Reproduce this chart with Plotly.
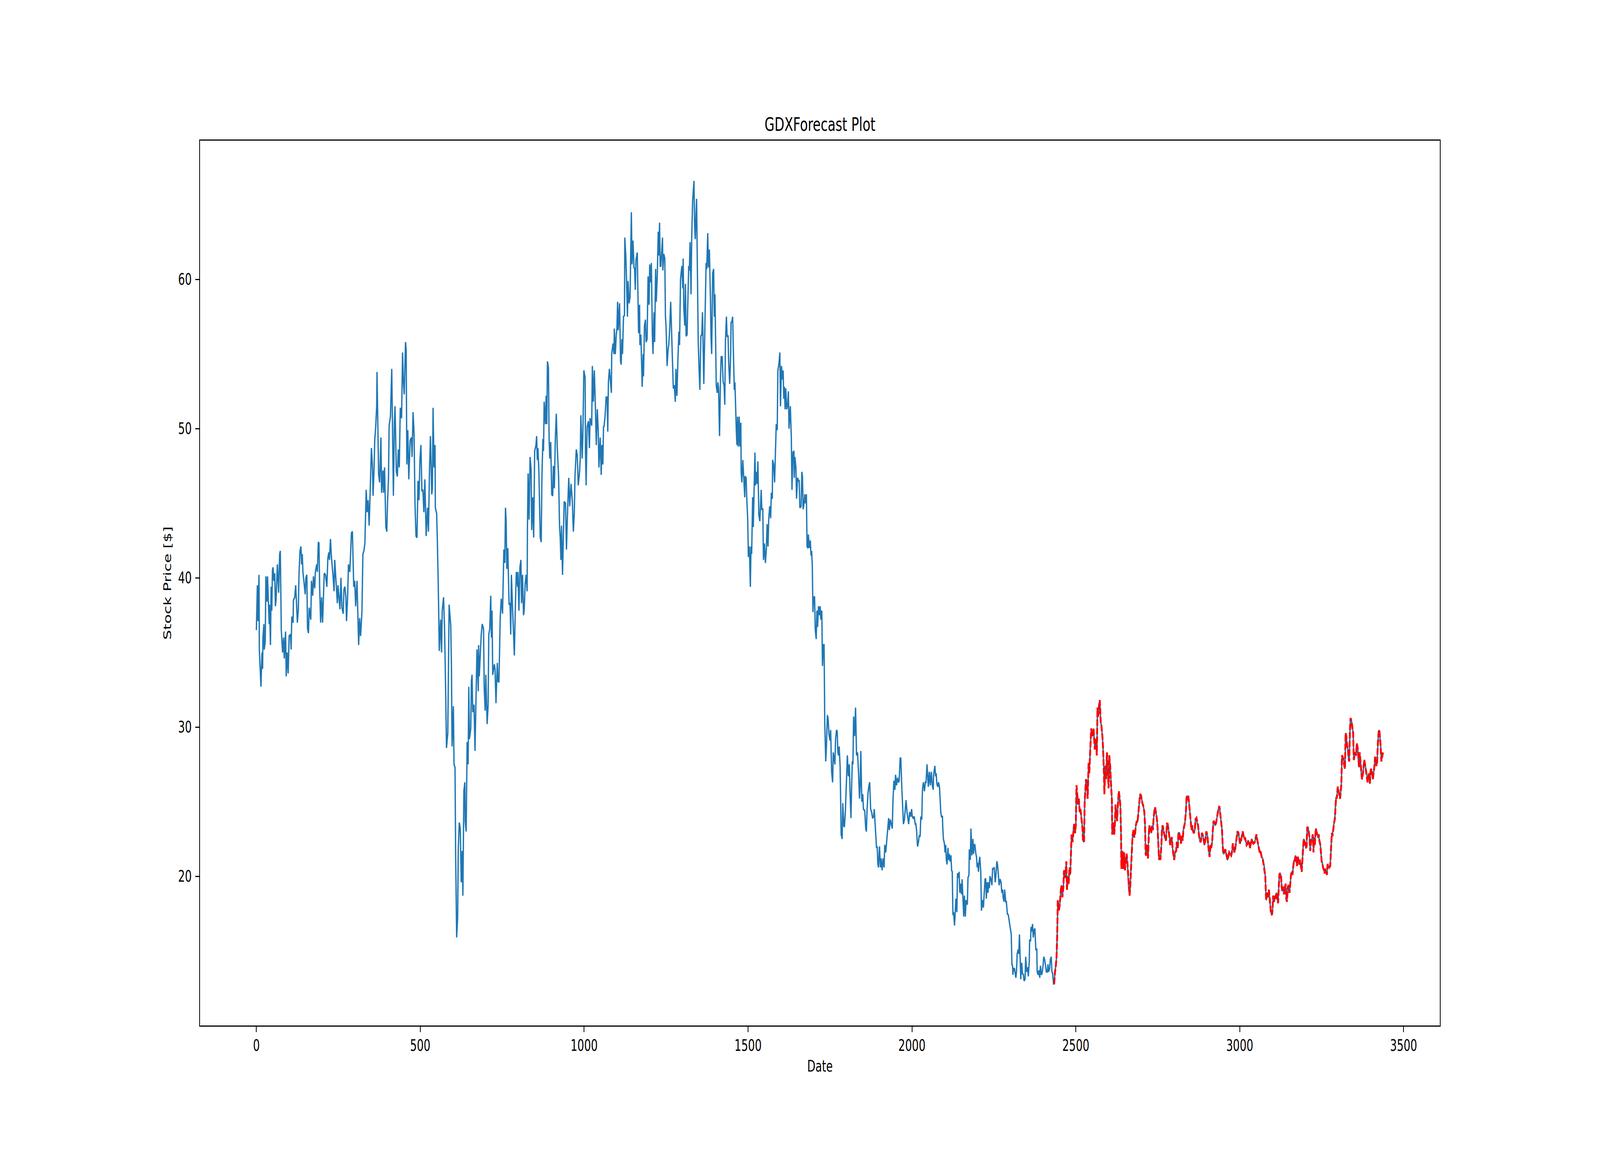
import plotly.graph_objects as go

# GDX close price (blue) and forecast over the test period (red dashed)
# values, x = trading-day index

days_2008 = [0, 1, 3, 5, 8, 9, 14, 17, 19, 20, 23, 24, 27, 29, 32, 34, 39, 40, 43, 45,
             47, 49, 51, 53, 56, 58, 60, 64, 68, 71, 73, 76, 80, 83, 85, 89, 91, 94, 97, 100,
             104, 106, 108, 112, 113, 117, 120, 123, 125, 128, 130, 133, 136, 138, 140, 142, 146, 149, 151, 154,
             156, 159, 161, 166, 168, 172, 174, 178, 180, 184, 186, 189, 191, 193, 196, 199, 202, 207, 211, 215,
             218, 221, 223, 226, 229, 231, 234, 237, 239, 242, 247, 249, 253, 255, 258, 261, 265, 267, 270, 273,
             275, 278, 281, 285, 287, 290, 293, 297, 300, 303, 307, 312, 315, 318, 322, 325, 328, 331, 335, 338,
             341, 344, 346, 349, 351, 354, 356, 359, 361, 364, 367, 368, 370, 372, 373, 376, 380, 382, 386, 388,
             391, 395, 398, 400, 403, 405, 409, 413, 415, 418, 421, 423, 427, 430, 433, 436, 439, 443, 446, 448,
             451, 453, 455, 457, 459, 462, 465, 469, 473, 475, 478]
price_2008 = [36.5, 37.7, 39.5, 37.1, 40.2, 35.2, 32.7, 35.0, 33.9, 36.0, 36.9, 35.2, 35.7, 40.1, 38.4, 40.1, 36.9, 38.2, 35.5, 39.4,
              37.8, 40.5, 40.7, 39.8, 40.3, 38.1, 38.5, 40.9, 39.0, 41.6, 41.8, 36.5, 35.0, 36.0, 34.6, 36.4, 33.4, 35.0, 33.6, 36.1,
              36.2, 35.2, 37.4, 37.0, 38.5, 38.7, 39.5, 38.0, 37.0, 37.9, 40.2, 41.8, 42.1, 40.9, 41.6, 40.4, 39.4, 38.9, 40.0, 40.2,
              36.6, 36.3, 38.0, 37.2, 39.8, 38.8, 40.1, 39.3, 40.4, 40.9, 40.4, 42.4, 42.3, 39.4, 37.0, 38.7, 37.0, 40.3, 40.2, 39.4,
              41.3, 41.7, 41.2, 42.6, 41.4, 40.9, 40.1, 39.1, 41.2, 40.1, 38.3, 39.5, 38.3, 37.9, 40.0, 38.0, 37.6, 39.2, 39.4, 38.7,
              37.1, 38.5, 40.9, 40.4, 41.4, 43.0, 43.1, 39.4, 39.8, 38.1, 39.8, 35.5, 37.3, 36.1, 37.7, 41.6, 41.8, 42.3, 45.9, 44.4,
              45.2, 43.5, 44.9, 47.1, 48.7, 47.5, 45.5, 47.3, 49.2, 50.1, 51.5, 53.8, 51.1, 49.4, 46.9, 46.4, 49.4, 45.7, 47.2, 45.7,
              47.4, 43.4, 43.1, 45.0, 46.6, 50.2, 50.8, 54.0, 50.9, 45.5, 50.4, 51.5, 47.1, 46.8, 48.6, 47.4, 51.4, 50.7, 55.1, 53.4,
              52.3, 54.3, 55.8, 55.3, 47.6, 49.9, 46.6, 49.2, 49.4, 48.1, 51.1]

days_crash = [481, 484, 487, 490, 493, 496, 499, 502, 505, 508, 511, 514, 518, 522, 525, 528, 531, 535, 537, 539,
              542, 545, 546, 550, 552, 555, 558, 562, 565, 567, 571, 574, 577, 580, 584, 586, 588, 593, 595, 597,
              601, 603, 606, 608, 611, 614, 616, 619, 622, 625, 628, 630, 633, 636, 637, 640, 643, 646, 648, 650,
              654, 656, 658, 660, 664, 667, 669, 673, 677, 678, 680, 684, 686, 689, 693, 695, 698, 700, 704, 707,
              709, 712, 715, 717, 719, 721, 726, 728, 731, 735, 737, 740, 742, 744, 747, 751, 755, 758, 760, 762,
              764, 767, 771, 774, 776, 778, 781, 784, 787, 790, 793, 797, 798, 801, 804, 807, 809, 812, 815, 817,
              820, 823, 826, 827, 829, 832, 835, 838, 840, 843, 846, 849, 853, 855, 857, 859, 862, 866, 869, 871,
              874, 876, 878, 882, 884, 886, 888, 891, 893, 895, 898, 901, 904, 906, 909, 912, 915, 918, 922, 925,
              927, 929, 931, 934, 936, 939, 943, 946, 949, 953, 956, 960, 964, 967, 970, 972, 976, 979, 982, 986,
              988, 990, 994, 996, 999, 1003, 1004, 1006, 1009, 1013, 1016, 1018, 1023, 1025, 1028, 1031, 1034, 1037, 1040, 1043,
              1045, 1048]
price_crash = [49.7, 44.9, 42.8, 42.7, 46.5, 45.2, 47.9, 48.9, 45.8, 45.9, 44.4, 46.6, 42.8, 44.7, 43.1, 47.1, 49.5, 45.6, 46.0, 51.4,
               47.4, 48.9, 44.7, 44.3, 42.6, 39.4, 35.1, 37.2, 35.0, 37.8, 38.7, 36.7, 33.0, 28.6, 29.6, 33.8, 38.2, 36.8, 34.2, 28.7,
               31.4, 27.5, 27.3, 21.3, 15.9, 17.2, 21.9, 23.6, 23.2, 19.6, 21.7, 18.7, 25.7, 26.3, 23.7, 23.0, 29.0, 27.5, 32.7, 29.2,
               29.9, 33.1, 33.5, 31.0, 31.5, 28.4, 30.8, 35.2, 32.4, 35.5, 33.4, 35.1, 36.2, 36.9, 36.6, 32.7, 31.1, 33.5, 30.2, 31.5,
               36.2, 36.6, 38.8, 36.0, 37.8, 33.5, 34.2, 33.9, 31.6, 34.3, 33.1, 33.0, 35.6, 37.4, 38.6, 37.6, 41.9, 41.0, 44.7, 43.8,
               40.6, 42.0, 38.2, 38.3, 36.2, 40.2, 38.3, 36.8, 34.8, 38.0, 40.4, 39.4, 40.4, 37.8, 40.7, 41.2, 38.3, 40.2, 37.5, 37.8,
               39.6, 40.2, 39.1, 43.4, 47.0, 43.9, 48.1, 47.3, 43.2, 45.4, 42.7, 48.5, 48.9, 49.5, 47.9, 48.7, 47.0, 42.7, 42.4, 46.6,
               49.3, 48.5, 51.8, 50.3, 52.2, 50.3, 54.5, 54.1, 49.4, 48.0, 49.1, 45.6, 45.5, 47.5, 46.0, 49.3, 51.0, 48.7, 46.8, 43.4,
               42.7, 41.2, 43.5, 40.2, 41.9, 45.1, 45.0, 41.9, 44.2, 46.7, 44.8, 46.3, 45.1, 43.1, 44.4, 46.8, 48.6, 48.2, 46.2, 47.1,
               48.0, 50.9, 48.0, 49.5, 53.9, 53.4, 48.5, 46.2, 50.1, 50.5, 48.7, 50.7, 50.2, 54.2, 51.8, 53.9, 51.7, 48.9, 51.3, 49.8,
               47.4, 49.4]

days_peak = [1049, 1052, 1054, 1057, 1059, 1061, 1064, 1067, 1070, 1072, 1074, 1077, 1080, 1083, 1084, 1088, 1091, 1092, 1095, 1098,
             1100, 1102, 1104, 1108, 1111, 1113, 1115, 1117, 1120, 1123, 1124, 1127, 1129, 1132, 1134, 1137, 1140, 1144, 1146, 1149,
             1152, 1154, 1156, 1158, 1162, 1164, 1166, 1169, 1170, 1173, 1175, 1177, 1180, 1181, 1184, 1187, 1189, 1192, 1195, 1198,
             1200, 1203, 1205, 1208, 1210, 1213, 1215, 1218, 1220, 1223, 1226, 1228, 1230, 1232, 1234, 1237, 1239, 1240, 1243, 1246,
             1248, 1250, 1253, 1256, 1258, 1261, 1264, 1267, 1270, 1272, 1275, 1278, 1280, 1283, 1286, 1289, 1291, 1294, 1298, 1301,
             1302, 1304, 1307, 1309, 1311, 1314, 1317, 1319, 1321, 1323, 1326, 1328, 1331, 1335, 1337, 1339, 1341, 1343, 1345, 1348,
             1350, 1353, 1356, 1359, 1361, 1363, 1365, 1368, 1370, 1372, 1374, 1377, 1379, 1382, 1385, 1387, 1389, 1392, 1395, 1397,
             1399, 1401, 1403, 1406, 1408, 1410, 1413, 1416, 1418, 1421, 1424, 1427, 1429, 1431, 1434, 1436, 1439, 1441, 1444, 1447,
             1448, 1451, 1453, 1455, 1458, 1460, 1462, 1464, 1466, 1468, 1470, 1473, 1475, 1478, 1479, 1481, 1484, 1487, 1490, 1491,
             1494, 1496, 1499, 1501, 1504, 1507, 1509, 1511, 1514, 1516, 1519, 1521, 1523, 1526, 1528, 1530, 1533, 1536]
price_peak = [49.4, 46.9, 48.9, 47.6, 50.1, 50.2, 50.9, 52.1, 52.1, 49.8, 53.1, 54.0, 53.1, 52.4, 55.0, 55.7, 55.0, 56.7, 55.0, 56.3,
              56.7, 58.5, 56.6, 58.4, 54.5, 54.3, 56.0, 55.0, 57.5, 57.6, 62.8, 61.6, 60.2, 57.5, 59.9, 58.4, 58.8, 64.5, 61.0, 62.6,
              60.8, 60.7, 59.3, 61.3, 61.8, 58.3, 56.4, 58.3, 55.6, 56.3, 54.1, 52.8, 55.0, 53.5, 56.9, 57.3, 55.8, 56.0, 60.2, 58.3,
              61.0, 59.8, 61.1, 56.3, 55.0, 57.8, 55.8, 60.7, 58.5, 60.2, 63.2, 61.6, 63.8, 60.9, 60.9, 62.3, 62.8, 60.6, 61.7, 61.4,
              57.5, 56.8, 54.2, 55.3, 55.6, 56.7, 58.5, 56.3, 53.7, 52.7, 52.9, 51.8, 54.0, 52.2, 54.6, 56.5, 55.6, 60.0, 60.9, 59.4,
              61.4, 58.1, 56.9, 59.7, 56.2, 56.3, 59.1, 60.9, 60.6, 62.5, 59.0, 62.7, 65.3, 66.6, 63.6, 62.7, 64.2, 65.4, 61.5, 55.8,
              54.4, 52.6, 56.2, 56.3, 57.8, 55.8, 53.0, 56.5, 58.8, 61.1, 60.7, 63.1, 60.8, 62.0, 59.0, 56.2, 55.0, 60.4, 60.7, 57.5,
              59.0, 56.0, 52.9, 52.4, 53.1, 52.7, 49.5, 53.5, 54.8, 54.8, 53.1, 52.9, 51.6, 55.8, 57.5, 56.2, 56.2, 54.4, 53.0, 55.0,
              57.1, 57.2, 57.5, 55.4, 52.6, 53.1, 51.2, 50.0, 48.9, 50.8, 48.8, 50.8, 48.8, 50.4, 47.1, 46.4, 47.9, 46.6, 45.4, 46.8,
              46.7, 45.4, 43.9, 41.4, 42.1, 39.4, 42.1, 41.6, 45.4, 43.4, 46.9, 48.4, 46.2, 47.1, 46.3, 47.8, 44.2, 43.8]

days_decline = [1540, 1542, 1545, 1547, 1550, 1553, 1556, 1558, 1561, 1563, 1566, 1569, 1571, 1574, 1575, 1578, 1581, 1583, 1586, 1589,
                1591, 1594, 1597, 1599, 1602, 1605, 1607, 1609, 1611, 1613, 1615, 1618, 1621, 1623, 1625, 1629, 1632, 1634, 1637, 1640,
                1641, 1643, 1646, 1648, 1651, 1654, 1656, 1658, 1662, 1664, 1666, 1668, 1671, 1673, 1675, 1678, 1680, 1683, 1684, 1687,
                1690, 1692, 1694, 1696, 1698, 1700, 1703, 1705, 1708, 1710, 1712, 1715, 1718, 1720, 1722, 1725, 1727, 1730, 1732, 1734,
                1737, 1739, 1742, 1744, 1747, 1750, 1752, 1755, 1758, 1760, 1763, 1765, 1767, 1770, 1772, 1774, 1776, 1778, 1781, 1782,
                1784, 1787, 1789, 1792, 1794, 1797, 1799, 1802, 1803, 1806, 1809, 1811, 1814, 1816, 1818, 1820, 1822, 1825, 1828, 1831,
                1834, 1837, 1840, 1842, 1844, 1847, 1850, 1852, 1856, 1859, 1861, 1863, 1866, 1869, 1871, 1874, 1877, 1880, 1883, 1885,
                1887, 1890, 1892, 1894, 1896, 1898, 1901, 1904, 1906, 1909, 1912, 1915, 1917, 1920, 1923, 1926, 1929, 1931, 1934, 1937,
                1940, 1942, 1945, 1948, 1950, 1953, 1956, 1959, 1961, 1964, 1966, 1969, 1971, 1974, 1977, 1980, 1982, 1985, 1988, 1990,
                1993, 1996, 1999, 2001, 2004, 2007, 2010, 2012, 2014, 2017, 2020, 2022, 2025, 2027, 2030, 2032, 2035, 2038, 2041, 2043,
                2046, 2049]
price_decline = [45.9, 44.6, 44.6, 41.2, 42.3, 41.0, 42.0, 43.6, 42.1, 43.9, 44.8, 44.0, 45.7, 45.3, 47.9, 47.6, 46.4, 48.0, 50.3, 49.9,
                 53.9, 54.3, 55.1, 51.5, 54.2, 53.3, 53.9, 52.0, 52.8, 51.3, 52.7, 51.3, 51.6, 52.5, 50.0, 51.5, 49.4, 45.9, 48.4, 48.5,
                 46.7, 48.1, 47.4, 45.3, 46.7, 46.5, 46.5, 44.7, 44.8, 47.1, 46.8, 44.6, 45.0, 45.6, 45.0, 45.6, 42.1, 42.0, 42.9, 42.0,
                 42.5, 41.5, 41.8, 40.8, 37.7, 38.7, 38.7, 36.5, 35.9, 37.8, 36.7, 38.1, 37.5, 38.1, 37.2, 37.8, 34.1, 35.5, 35.5, 30.3,
                 27.7, 28.6, 30.8, 30.6, 29.5, 29.1, 29.8, 27.0, 26.3, 28.3, 27.8, 27.5, 29.2, 29.8, 29.7, 28.3, 28.1, 28.7, 27.3, 25.1,
                 22.8, 22.5, 24.9, 23.4, 23.3, 24.4, 25.7, 27.1, 28.1, 26.7, 27.5, 25.7, 23.9, 26.0, 27.7, 27.5, 30.7, 29.4, 31.3, 28.1,
                 28.3, 27.0, 25.2, 26.1, 28.4, 25.0, 25.5, 24.5, 24.4, 23.2, 23.0, 24.4, 25.6, 26.1, 26.3, 24.5, 24.3, 23.9, 24.0, 24.5,
                 23.7, 22.6, 21.9, 22.0, 20.8, 20.6, 22.0, 20.6, 21.2, 20.4, 21.2, 20.6, 22.1, 21.6, 22.3, 23.0, 23.9, 23.1, 23.8, 23.5,
                 23.2, 25.0, 26.4, 25.8, 26.8, 26.1, 26.6, 26.3, 26.4, 27.9, 27.9, 26.0, 24.9, 23.5, 23.8, 24.5, 25.1, 24.3, 23.8, 23.5,
                 24.3, 24.0, 24.5, 24.0, 23.9, 24.0, 23.5, 23.5, 23.1, 22.0, 22.3, 22.7, 22.7, 24.0, 23.8, 25.8, 26.3, 25.7, 26.3, 26.3,
                 27.5, 26.2]

days_bottom = [2050, 2053, 2056, 2059, 2062, 2065, 2066, 2070, 2072, 2074, 2076, 2079, 2081, 2084, 2086, 2088, 2090, 2093, 2094, 2096,
               2099, 2101, 2103, 2105, 2107, 2110, 2111, 2114, 2116, 2119, 2121, 2123, 2125, 2127, 2130, 2133, 2134, 2137, 2139, 2142,
               2144, 2146, 2148, 2151, 2153, 2155, 2158, 2160, 2163, 2165, 2169, 2171, 2174, 2175, 2178, 2180, 2183, 2186, 2188, 2190,
               2192, 2195, 2197, 2199, 2201, 2203, 2205, 2207, 2210, 2212, 2215, 2218, 2220, 2223, 2225, 2227, 2229, 2232, 2234, 2236,
               2238, 2241, 2244, 2246, 2249, 2251, 2254, 2256, 2259, 2261, 2264, 2266, 2269, 2272, 2274, 2277, 2278, 2281, 2283, 2286,
               2288, 2291, 2294, 2296, 2299, 2301, 2303, 2305, 2307, 2308, 2310, 2313, 2315, 2317, 2319, 2321, 2324, 2326, 2328, 2330,
               2332, 2335, 2337, 2340, 2342, 2345, 2347, 2350, 2353, 2355, 2358, 2359, 2362, 2363, 2365, 2368, 2370, 2373, 2375, 2378,
               2381, 2382, 2385, 2387, 2390, 2392, 2395, 2397, 2400, 2402, 2405, 2407, 2410, 2413, 2415, 2417, 2420, 2422, 2425, 2427,
               2429, 2432]
price_bottom = [26.0, 27.0, 26.1, 27.0, 26.1, 25.8, 26.8, 27.4, 26.7, 26.9, 26.2, 26.0, 26.3, 26.0, 25.0, 24.3, 24.0, 24.0, 23.3, 22.5,
                22.2, 21.6, 22.1, 21.1, 20.8, 21.9, 21.1, 21.5, 21.0, 21.4, 20.4, 20.3, 17.4, 17.6, 16.7, 18.3, 18.5, 17.6, 20.2, 19.9,
                20.3, 18.9, 19.5, 18.8, 19.8, 18.8, 17.3, 18.7, 17.3, 18.4, 18.1, 19.9, 20.1, 21.8, 21.1, 23.2, 21.4, 22.5, 21.5, 22.1,
                22.1, 21.5, 21.3, 20.6, 20.9, 20.3, 21.0, 21.3, 20.3, 17.7, 18.4, 17.9, 18.6, 19.8, 19.8, 18.5, 19.6, 18.9, 19.6, 19.2,
                20.0, 19.8, 19.4, 20.5, 20.5, 20.6, 19.6, 20.0, 21.0, 20.8, 20.0, 19.4, 19.8, 19.6, 18.9, 19.1, 18.6, 18.3, 19.1, 18.3,
                18.3, 17.5, 17.4, 17.1, 16.8, 16.5, 16.1, 14.1, 14.0, 13.4, 13.8, 13.8, 13.5, 13.2, 13.6, 14.8, 15.1, 14.8, 16.1, 14.8,
                13.1, 14.2, 13.5, 13.4, 13.0, 13.1, 14.6, 13.6, 13.9, 13.3, 14.3, 15.7, 15.7, 16.6, 16.3, 16.8, 15.9, 16.4, 16.5, 15.1,
                15.1, 13.6, 13.4, 13.7, 13.2, 14.0, 13.4, 13.5, 14.0, 14.6, 14.4, 14.1, 13.6, 13.6, 14.1, 13.6, 13.8, 14.4, 14.6, 13.6,
                13.5, 12.8]

# test period: the red forecast sits on the actual close within reading precision
days_test = [2434, 2436, 2439, 2441, 2443, 2444, 2445, 2448, 2451, 2454, 2456, 2459, 2462, 2464, 2467, 2469, 2471, 2473, 2476, 2478,
             2481, 2483, 2486, 2487, 2490, 2493, 2495, 2498, 2500, 2502, 2504, 2507, 2509, 2512, 2514, 2517, 2520, 2522, 2525, 2527,
             2529, 2531, 2534, 2536, 2539, 2541, 2544, 2547, 2550,
             2551, 2554, 2556, 2558, 2561, 2564, 2566, 2568, 2571, 2573, 2576, 2578, 2581, 2583, 2586, 2587, 2590, 2592, 2595, 2597,
             2600, 2602, 2605, 2607, 2610, 2611, 2614, 2617, 2619, 2621, 2623, 2626, 2628, 2631, 2633, 2636, 2638, 2639, 2642, 2645,
             2647, 2650, 2652, 2655, 2657, 2659, 2661, 2664, 2666, 2669, 2671, 2673, 2676, 2678, 2681, 2683, 2686, 2688, 2691, 2693,
             2696, 2699, 2701, 2703, 2706, 2709, 2711, 2713, 2715, 2718, 2720, 2722, 2724, 2727, 2730, 2732, 2735, 2737, 2740, 2742,
             2745, 2747, 2749, 2752, 2754, 2756, 2758, 2761, 2763, 2765, 2767, 2770, 2773, 2775, 2778, 2780, 2783, 2785, 2788, 2790,
             2793, 2795, 2798, 2800, 2803, 2806, 2808, 2811, 2813, 2816, 2818, 2821, 2823, 2826, 2828, 2831, 2833, 2836, 2838, 2840,
             2843, 2845, 2848, 2850, 2853, 2855, 2858, 2860, 2863, 2865, 2868, 2871, 2873, 2875, 2878, 2881, 2883, 2885, 2888, 2891,
             2893, 2896, 2898, 2901, 2903, 2906, 2908, 2911, 2913, 2916, 2918, 2920, 2923, 2925, 2928, 2930, 2933, 2935, 2938, 2940,
             2943, 2946, 2948, 2950, 2953, 2956, 2958, 2961, 2963, 2966, 2968, 2971, 2974, 2976, 2979, 2981, 2984, 2986, 2989, 2991,
             2993, 2996, 2999, 3001, 3004, 3006, 3009, 3011, 3014, 3016, 3019, 3021, 3024, 3026, 3029, 3032, 3034, 3037, 3039, 3042,
             3046, 3049, 3051, 3053, 3056, 3058, 3061, 3063, 3065, 3067, 3070, 3072, 3074, 3076, 3078, 3080, 3081, 3084, 3086, 3089,
             3091, 3093, 3095, 3098, 3100, 3102, 3105, 3107, 3109, 3112, 3114, 3117, 3119, 3121, 3123, 3126, 3128, 3130, 3133, 3135,
             3138, 3140, 3142, 3144, 3147, 3149, 3152, 3154, 3156, 3158, 3161, 3163, 3166, 3168, 3170, 3173, 3175, 3177, 3180, 3182,
             3184, 3186, 3189, 3191, 3193, 3195, 3198, 3200, 3202, 3204, 3206, 3209, 3211, 3213, 3215, 3218, 3220, 3223, 3225, 3227,
             3229, 3232, 3234, 3236, 3239, 3241, 3243, 3246, 3248, 3250, 3252, 3254, 3257, 3259, 3261, 3264, 3266, 3268, 3271, 3273,
             3276, 3277, 3279, 3281, 3283, 3285, 3288, 3290, 3292, 3294, 3296, 3299, 3301, 3304, 3306, 3308, 3310, 3312, 3314, 3317,
             3319, 3321, 3323, 3325, 3328, 3330, 3332, 3334, 3336, 3338, 3341, 3343, 3346, 3348, 3350, 3352, 3355, 3357, 3360, 3362,
             3364, 3366, 3369, 3371, 3373, 3376, 3378, 3380, 3383, 3385, 3388, 3390, 3392, 3395, 3397, 3399, 3401, 3404, 3406, 3409,
             3411, 3413, 3415, 3417, 3419, 3422, 3424, 3426, 3428, 3430, 3432, 3435, 3437]
price_test = [12.8, 13.5, 14.0, 14.5, 15.9, 17.4, 18.4, 17.7, 18.1, 19.0, 19.4, 18.6, 19.3, 20.4, 19.9, 20.3, 21.0, 19.1, 20.0, 19.5,
              20.6, 20.1, 22.1, 22.8, 22.3, 23.3, 23.5, 22.9, 23.5, 26.1, 25.4, 24.8, 25.2, 24.3, 24.5, 23.8, 23.3, 22.4, 22.3, 25.0,
              26.0, 26.5, 26.2, 25.2, 27.6, 26.9, 28.5, 29.9, 29.5,
              29.4, 29.9, 29.3, 28.5, 29.2, 28.1, 31.3, 30.7, 31.5, 31.8, 30.3, 30.1, 29.4, 28.6, 26.8, 25.5, 27.4, 26.5, 28.3, 27.0,
              25.9, 28.1, 27.3, 26.3, 25.1, 22.8, 23.6, 22.8, 23.4, 24.8, 24.4, 23.7, 24.7, 25.7, 25.4, 24.7, 22.7, 20.5, 21.7, 20.5,
              21.6, 20.4, 21.1, 21.5, 21.0, 20.3, 19.3, 18.7, 19.3, 21.0, 21.8, 22.7, 23.1, 22.6, 22.9, 23.4, 23.7, 23.6, 24.3, 24.7,
              25.5, 25.4, 25.1, 24.9, 24.7, 24.3, 23.5, 21.5, 21.4, 22.1, 21.2, 22.7, 23.4, 23.1, 22.9, 23.4, 23.1, 23.8, 24.5, 24.6,
              24.2, 23.9, 23.4, 22.2, 21.1, 21.4, 21.1, 22.1, 23.2, 23.4, 23.1, 22.8, 22.5, 22.4, 23.5, 23.5, 23.1, 22.7, 22.1, 22.5,
              22.6, 21.9, 21.5, 21.1, 21.6, 21.7, 22.3, 21.9, 22.9, 22.9, 22.5, 22.2, 22.7, 22.4, 23.1, 23.4, 23.6, 24.4, 25.4, 25.1,
              25.4, 25.0, 24.4, 23.8, 23.1, 23.4, 23.0, 22.9, 23.1, 23.8, 23.9, 23.5, 23.4, 22.9, 22.4, 22.3, 22.7, 22.9, 22.7, 22.2,
              22.1, 22.6, 23.0, 22.8, 22.2, 21.6, 21.3, 22.1, 21.9, 22.3, 23.1, 23.7, 23.6, 23.4, 23.6, 23.9, 24.2, 24.5, 24.7, 24.3,
              23.8, 23.1, 22.1, 21.5, 21.6, 21.8, 21.6, 21.2, 21.1, 21.4, 21.6, 21.5, 21.4, 21.6, 22.2, 21.9, 21.6, 21.8, 22.4, 22.7,
              23.0, 22.9, 22.5, 22.2, 22.4, 22.7, 23.0, 22.8, 22.5, 22.6, 22.3, 22.1, 22.2, 22.4, 22.2, 21.9, 22.2, 22.5, 22.3, 22.2,
              22.3, 22.6, 22.8, 22.5, 22.1, 21.9, 21.6, 21.7, 21.5, 21.3, 21.2, 20.9, 20.8, 20.4, 20.0, 18.7, 18.4, 18.9, 18.6, 19.1,
              18.7, 18.1, 17.6, 17.4, 17.7, 18.7, 18.3, 18.7, 18.5, 18.9, 18.6, 18.2, 19.2, 20.1, 20.2, 20.0, 19.3, 19.0, 19.3, 18.8,
              19.2, 19.5, 18.5, 18.3, 19.3, 19.4, 18.9, 19.6, 20.0, 20.3, 20.1, 20.6, 21.1, 21.0, 21.4, 21.0, 20.7, 21.3, 21.0, 20.8,
              21.1, 20.8, 20.3, 21.0, 22.0, 22.5, 22.3, 22.1, 21.9, 22.0, 23.3, 23.2, 22.8, 22.6, 21.7, 22.4, 22.5, 22.8, 21.6, 22.6,
              22.1, 23.2, 23.0, 22.8, 22.6, 22.8, 22.4, 22.1, 21.6, 21.0, 20.9, 20.6, 20.4, 20.2, 20.5, 20.3, 20.1, 20.8, 20.7, 20.6,
              20.7, 21.2, 22.1, 22.9, 22.7, 23.2, 23.6, 23.8, 24.7, 25.3, 25.2, 26.0, 25.8, 25.5, 25.2, 25.6, 26.2, 28.1, 28.0, 27.8,
              27.4, 27.2, 29.6, 29.4, 28.7, 28.5, 27.9, 27.7, 29.5, 30.6, 30.4, 30.0, 29.6, 27.8, 28.0, 28.3, 28.1, 28.9, 28.6, 27.7,
              27.3, 28.3, 27.6, 26.8, 26.5, 26.9, 27.3, 27.8, 27.4, 27.1, 26.8, 26.3, 26.6, 26.9, 26.2, 27.0, 27.2, 26.9, 26.5, 27.0,
              27.4, 28.0, 27.8, 27.4, 27.6, 29.1, 29.7, 29.8, 29.3, 28.7, 27.7, 28.0, 28.3]

x_ticks = [0, 500, 1000, 1500, 2000, 2500, 3000, 3500]
y_ticks = [20, 30, 40, 50, 60]

all_days = days_2008 + days_crash + days_peak + days_decline + days_bottom + days_test
all_price = price_2008 + price_crash + price_peak + price_decline + price_bottom + price_test

font = "DejaVu Sans"

fig = go.Figure()
fig.add_trace(go.Scatter(x=all_days, y=all_price, mode="lines", name="Actual",
                         line=dict(color="#1f77b4", width=5)))
fig.add_trace(go.Scatter(x=days_test, y=price_test, mode="lines", name="Forecast",
                         line=dict(color="red", width=7, dash="16px,6px")))

axis_style = dict(
    showgrid=False, zeroline=False,
    showline=True, linecolor="black", linewidth=3, mirror=True,
    ticks="outside", ticklen=14, tickwidth=2.5, tickcolor="black",
    tickfont=dict(family=font, size=40, color="black"),
)

fig.update_layout(
    width=6000, height=3000,
    margin=dict(l=750, r=600, t=360, b=375, pad=0),
    paper_bgcolor="white", plot_bgcolor="white",
    showlegend=False,
    title=dict(text="GDXForecast Plot", x=0.5, xref="paper", xanchor="center",
               y=1 - 318 / 3000, yref="container", yanchor="middle",
               font=dict(family=font, size=48, color="black")),
    xaxis=dict(range=[-172, 3611], tickvals=x_ticks, ticktext=[str(t) for t in x_ticks],
               title=dict(text="Date", standoff=18, font=dict(family=font, size=40, color="black")),
               **axis_style),
    yaxis=dict(range=[10.0, 69.3], tickvals=y_ticks, ticktext=[str(t) for t in y_ticks],
               ticklabelstandoff=6,
               title=dict(text="Stock Price [$]", standoff=14, font=dict(family=font, size=40, color="black")),
               **axis_style),
)

# the browser window can be narrower than the 6000x3000 page: fit the figure to it
fit_script = """
document.documentElement.style.overflow = 'hidden';
document.body.style.margin = '0';
document.body.style.overflow = 'hidden';
var gd = document.getElementById('{plot_id}');
var sx = Math.min(1, window.innerWidth / 6000), sy = Math.min(1, window.innerHeight / 3000);
gd.style.transformOrigin = '0 0';
gd.style.transform = 'scale(' + sx + ',' + sy + ')';
"""

fig.write_html("out.html", post_script=fit_script, config={"displayModeBar": False})
